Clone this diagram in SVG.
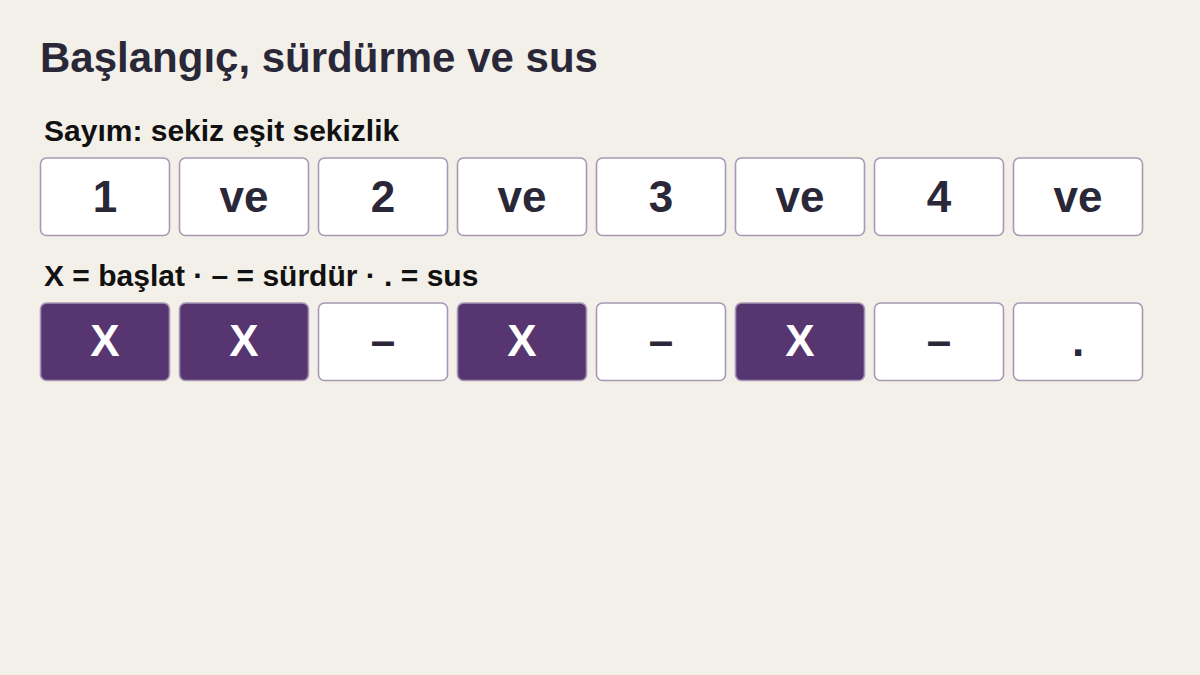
<svg xmlns="http://www.w3.org/2000/svg" width="1200" height="675" viewBox="0 0 1200 675">
<style>
text{font-family:"Liberation Sans",Arial,sans-serif;font-weight:bold}
.title{font-size:42px;fill:#2a2838}
.lab{font-size:30px;fill:#111111}
.box{fill:#ffffff;stroke:#a898b4;stroke-width:1.6}
.on{fill:#573571;stroke:#a898b4;stroke-width:1.6}
.t{font-size:44px;fill:#2a2838;text-anchor:middle}
.w{font-size:44px;fill:#ffffff;text-anchor:middle}
</style>
<rect width="1200" height="675" fill="#f3f0e9"/>
<text class="title" x="40" y="72">Başlangıç, sürdürme ve sus</text>
<text class="lab" x="44" y="141">Sayım: sekiz eşit sekizlik</text>
<g id="count">
<g id="c1"><rect class="box" x="40.5" y="158" width="129" height="77.5" rx="6"/><text class="t" x="105" y="212">1</text></g>
<g id="c2"><rect class="box" x="179.5" y="158" width="129" height="77.5" rx="6"/><text class="t" x="244" y="212">ve</text></g>
<g id="c3"><rect class="box" x="318.5" y="158" width="129" height="77.5" rx="6"/><text class="t" x="383" y="212">2</text></g>
<g id="c4"><rect class="box" x="457.5" y="158" width="129" height="77.5" rx="6"/><text class="t" x="522" y="212">ve</text></g>
<g id="c5"><rect class="box" x="596.5" y="158" width="129" height="77.5" rx="6"/><text class="t" x="661" y="212">3</text></g>
<g id="c6"><rect class="box" x="735.5" y="158" width="129" height="77.5" rx="6"/><text class="t" x="800" y="212">ve</text></g>
<g id="c7"><rect class="box" x="874.5" y="158" width="129" height="77.5" rx="6"/><text class="t" x="939" y="212">4</text></g>
<g id="c8"><rect class="box" x="1013.5" y="158" width="129" height="77.5" rx="6"/><text class="t" x="1078" y="212">ve</text></g>
</g>
<text class="lab" x="44" y="286">X = başlat · – = sürdür · . = sus</text>
<g id="pattern">
<g id="p1"><rect class="on" x="40.5" y="303" width="129" height="77.5" rx="6"/><text class="w" x="105" y="356">X</text></g>
<g id="p2"><rect class="on" x="179.5" y="303" width="129" height="77.5" rx="6"/><text class="w" x="244" y="356">X</text></g>
<g id="p3"><rect class="box" x="318.5" y="303" width="129" height="77.5" rx="6"/><text class="t" x="383" y="356">–</text></g>
<g id="p4"><rect class="on" x="457.5" y="303" width="129" height="77.5" rx="6"/><text class="w" x="522" y="356">X</text></g>
<g id="p5"><rect class="box" x="596.5" y="303" width="129" height="77.5" rx="6"/><text class="t" x="661" y="356">–</text></g>
<g id="p6"><rect class="on" x="735.5" y="303" width="129" height="77.5" rx="6"/><text class="w" x="800" y="356">X</text></g>
<g id="p7"><rect class="box" x="874.5" y="303" width="129" height="77.5" rx="6"/><text class="t" x="939" y="356">–</text></g>
<g id="p8"><rect class="box" x="1013.5" y="303" width="129" height="77.5" rx="6"/><text class="t" x="1078" y="356">.</text></g>
</g>
</svg>
